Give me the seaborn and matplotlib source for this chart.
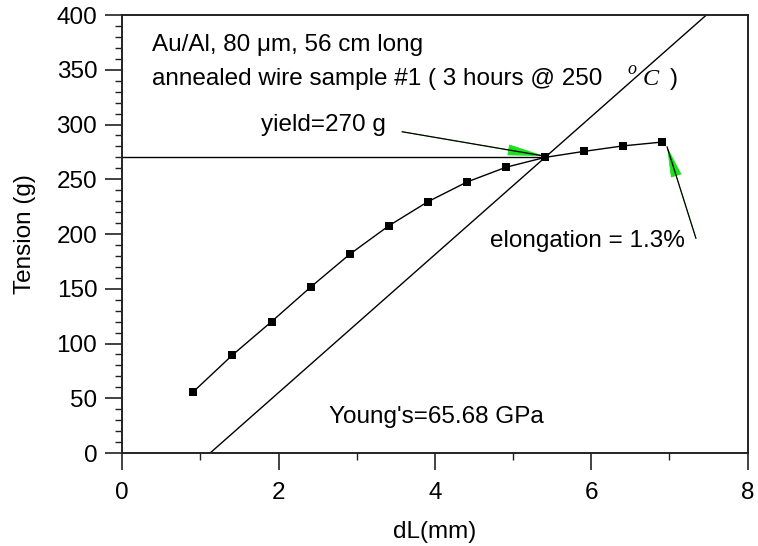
import matplotlib
matplotlib.use("Agg")
import matplotlib.pyplot as plt
import numpy as np
import pandas as pd
import seaborn as sns

# Measured tensile test: elongation vs. tension
dl_mm = [0.91, 1.41, 1.91, 2.41, 2.91, 3.41, 3.91, 4.41, 4.91, 5.41, 5.91, 6.41, 6.91]
tension_g = [56, 89.5, 120, 151.5, 181.5, 207.5, 229.5, 247.5, 261, 270, 275.5, 280.5, 284]

# Yield point and elastic (Young's modulus) fit line
yield_g = 270
yield_dl = 5.41
elastic_slope = 63.0   # g per mm
elastic_x0 = 1.124     # mm, zero-tension intercept of the elastic fit

x_ticks = [0, 2, 4, 6, 8]
y_ticks = [0, 50, 100, 150, 200, 250, 300, 350, 400]

title_line1 = "Au/Al, 80 \u03bcm, 56 cm long"
title_line2 = "annealed wire sample #1 ( 3 hours @ 250"
yield_label = "yield=270 g"
elong_label = "elongation = 1.3%"
young_label = "Young's=65.68 GPa"

sns.set_theme(style="ticks")
plt.rcParams["font.family"] = ["Liberation Sans", "DejaVu Sans"]
plt.rcParams["text.color"] = "black"
plt.rcParams["axes.labelcolor"] = "black"
plt.rcParams["xtick.color"] = "black"
plt.rcParams["ytick.color"] = "black"

FS = 17.5
GREEN = "#1be01b"
SPINE = "#222222"

fig = plt.figure(figsize=(7.58, 5.46), dpi=100)
ax = fig.add_axes([0.1613, 0.1703, 0.8249, 0.8022])

df = pd.DataFrame({"dL": dl_mm, "T": tension_g})
sns.lineplot(data=df, x="dL", y="T", ax=ax, color="black", lw=1.0,
             marker="s", markersize=5.5, markeredgewidth=0, sort=False)

# elastic fit line, extended across the plot and clipped by the axes
fit_x = np.array([elastic_x0, 8.0])
fit_y = elastic_slope * (fit_x - elastic_x0)
ax.plot(fit_x, fit_y, color="black", lw=1.0)

# horizontal yield level
ax.plot([0, yield_dl], [yield_g, yield_g], color="black", lw=1.0)

ax.set_xlim(0, 8)
ax.set_ylim(0, 400)
ax.set_xticks(x_ticks)
ax.set_yticks(y_ticks)
ax.set_xticks(np.arange(1, 8, 2), minor=True)
ax.set_yticks(np.arange(0, 401, 10), minor=True)
ax.tick_params(axis="both", which="major", length=12, width=1.2, color=SPINE,
               labelsize=FS, labelcolor="black", direction="out")
ax.tick_params(axis="x", which="major", pad=9)
ax.tick_params(axis="y", which="major", pad=6)
ax.tick_params(axis="both", which="minor", length=5, width=1.0, color=SPINE,
               direction="out")
for side in ["left", "right", "top", "bottom"]:
    ax.spines[side].set_visible(True)
    ax.spines[side].set_color(SPINE)
    ax.spines[side].set_linewidth(1.4)

ax.set_xlabel("dL(mm)", fontsize=FS, labelpad=12)
ax.set_ylabel("Tension (g)", fontsize=FS, labelpad=15)

# header text
ax.text(0.376, 367, title_line1, fontsize=FS, va="baseline", ha="left")
ax.text(0.376, 336, title_line2, fontsize=FS, va="baseline", ha="left")
ax.text(6.47, 346, "o", fontsize=13, va="baseline", ha="left",
        family="Liberation Serif", style="italic")
ax.text(6.66, 336, "C", fontsize=FS, va="baseline", ha="left",
        family="Liberation Serif", style="italic")
ax.text(7.01, 336, ")", fontsize=FS, va="baseline", ha="left")

ax.text(1.78, 294, yield_label, fontsize=FS, va="baseline", ha="left")
ax.text(4.7, 188, elong_label, fontsize=FS, va="baseline", ha="left")
ax.text(2.64, 27, young_label, fontsize=FS, va="baseline", ha="left")


def pointer(tail, tip, head_len):
    ax.annotate("", xy=tip, xytext=tail,
                arrowprops=dict(arrowstyle=f"-|>,head_length={head_len},head_width=0.36",
                                mutation_scale=10, fc=GREEN, ec=GREEN, lw=0.6,
                                shrinkA=0, shrinkB=0))
    ax.annotate("", xy=tip, xytext=tail,
                arrowprops=dict(arrowstyle="-", color="black", lw=0.9,
                                shrinkA=0, shrinkB=0))


pointer((3.58, 293.4), (5.40, 271.2), 2.4)
pointer((7.34, 196.0), (6.97, 279.7), 2.0)

fig.savefig("out.png", dpi=100, facecolor="white")
